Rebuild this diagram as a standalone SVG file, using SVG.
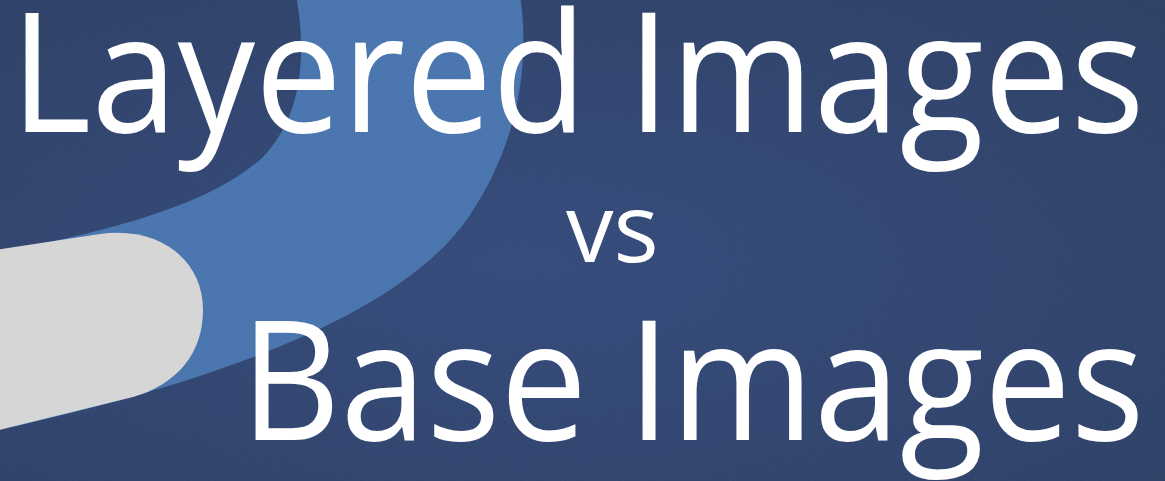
<svg xmlns="http://www.w3.org/2000/svg" width="1165" height="481" viewBox="0 0 1165 481">
  <style>
    .title { font-family: "Open Sans", "Noto Sans", "DejaVu Sans", sans-serif; fill: #ffffff; }
  </style>
  <defs>
    <radialGradient id="bgGrad" cx="0.45" cy="0.55" r="0.75">
      <stop offset="0" stop-color="#31487a"/>
      <stop offset="1" stop-color="#2a3d64"/>
    </radialGradient>
    <filter id="grain" x="0" y="0" width="100%" height="100%">
      <feTurbulence type="fractalNoise" baseFrequency="0.9" numOctaves="2" seed="3" result="noise"/>
      <feColorMatrix in="noise" type="matrix" values="0 0 0 0 0.5  0 0 0 0 0.5  0 0 0 0 0.5  0 0 0 0.08 0"/>
    </filter>
  </defs>
  <rect id="background" x="0" y="0" width="1165" height="481" fill="url(#bgGrad)"/>
  <g id="band">
    <path d="M 296,-5 C 308,60 300,120 262,158 C 215,200 130,228 -5,253 L -5,431 C 200,385 400,320 470,215 C 520,140 530,60 520,-5 Z" fill="#4673ae"/>
  </g>
  <g id="pill">
    <path d="M -5,250 L 100,234 C 160,226 203,260 203,310 C 203,355 175,385 133,397 L -5,431 Z" fill="#d7d7d7"/>
  </g>
  <rect id="texture" x="0" y="0" width="1165" height="481" filter="url(#grain)"/>
  <g id="titles">
    <text class="title" x="10.6" y="132" font-size="167" textLength="1134" lengthAdjust="spacingAndGlyphs">Layered Images</text>
    <text class="title" x="566" y="262" font-size="95">vs</text>
    <text class="title" x="240.6" y="440" font-size="167" textLength="904" lengthAdjust="spacingAndGlyphs">Base Images</text>
  </g>
</svg>
